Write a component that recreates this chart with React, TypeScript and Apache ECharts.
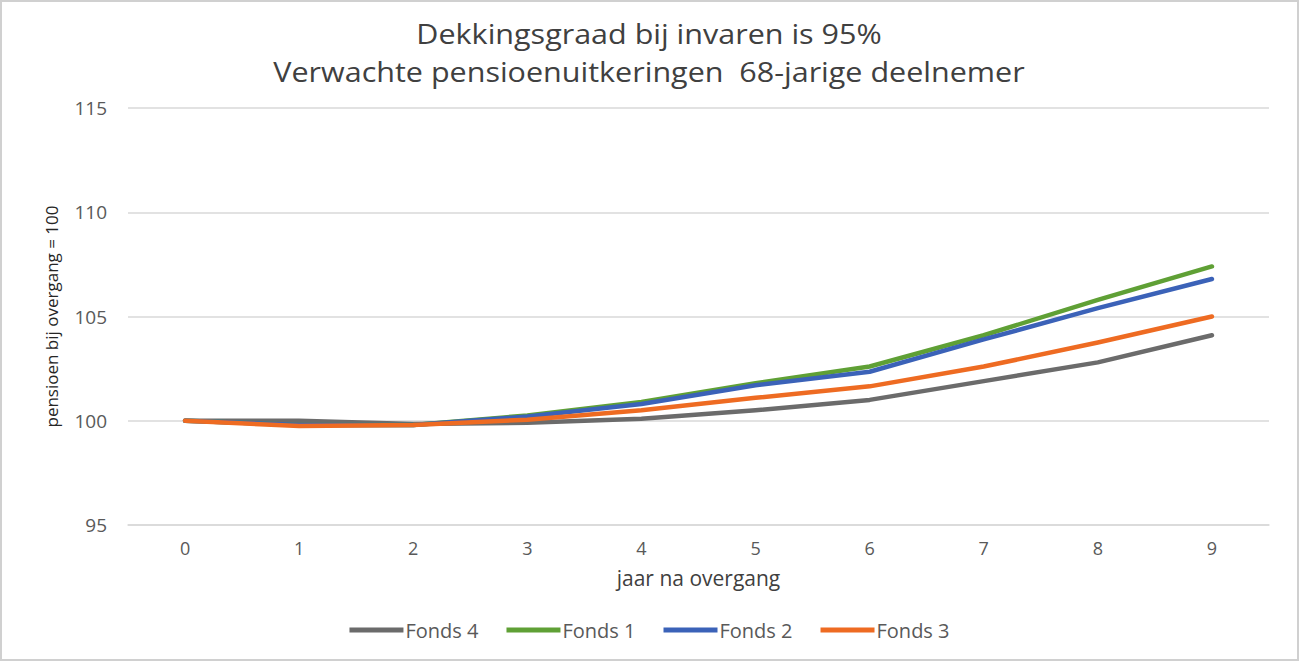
import React, { useEffect, useRef } from "react";
import * as echarts from "echarts";

const categories = ["0", "1", "2", "3", "4", "5", "6", "7", "8", "9"];
const fonds4 = [100, 100, 99.85, 99.9, 100.1, 100.5, 101.0, 101.9, 102.8, 104.1];
const fonds1 = [100, 99.8, 99.8, 100.25, 100.9, 101.8, 102.6, 104.1, 105.8, 107.4];
const fonds2 = [100, 99.8, 99.8, 100.2, 100.8, 101.7, 102.35, 103.9, 105.4, 106.8];
const fonds3 = [100, 99.75, 99.8, 100.05, 100.5, 101.1, 101.65, 102.6, 103.75, 105.0];

const titleLine1 = "Dekkingsgraad bij invaren is 95%";
const titleLine2 = "Verwachte pensioenuitkeringen  68-jarige deelnemer";
const font = "'Open Sans', 'Noto Sans', sans-serif";

export default function App() {
  const ref = useRef<HTMLDivElement>(null);
  useEffect(() => {
    document.body.style.margin = "0";
    const chart = echarts.init(ref.current!, null, { renderer: "svg" });
    const mk = (name: string, data: number[], color: string) => ({
      name,
      type: "line",
      data,
      symbol: "none",
      lineStyle: { width: 4.5, color, cap: "round", join: "round" },
      itemStyle: { color },
    });
    const titleText = (text: string, y: number) => ({
      type: "text",
      x: 649,
      y,
      scaleX: 1.13,
      silent: true,
      style: {
        text,
        fill: "#404040",
        font: "27px 'Open Sans', 'Noto Sans', sans-serif",
        textAlign: "center",
        textVerticalAlign: "middle",
      },
    });
    chart.setOption({
      animation: false,
      backgroundColor: "#ffffff",
      textStyle: { fontFamily: font },
      graphic: [
        {
          type: "rect",
          shape: { x: 1, y: 1, width: 1297, height: 659 },
          style: { fill: "none", stroke: "#d0d0d0", lineWidth: 2 },
          silent: true,
        },
        titleText(titleLine1, 33.5),
        titleText(titleLine2, 71),
      ],
      legend: {
        bottom: 16,
        left: "center",
        icon: "rect",
        itemWidth: 54,
        itemHeight: 5,
        itemGap: 28,
        textStyle: { fontSize: 20, color: "#595959", fontFamily: font, padding: [0, 0, 0, -3] },
        data: ["Fonds 4", "Fonds 1", "Fonds 2", "Fonds 3"],
      },
      grid: { left: 128, right: 30, top: 108, bottom: 136 },
      xAxis: {
        type: "category",
        data: categories,
        boundaryGap: true,
        name: "jaar na overgang",
        nameLocation: "middle",
        nameGap: 42,
        nameTextStyle: { fontSize: 21, color: "#404040" },
        axisLine: { show: true, lineStyle: { color: "#d9d9d9", width: 1.5 } },
        axisTick: { show: false },
        axisLabel: { fontSize: 18, color: "#595959", margin: 14 },
      },
      yAxis: {
        type: "value",
        min: 95,
        max: 115,
        interval: 5,
        name: "pensioen bij overgang = 100",
        nameLocation: "middle",
        nameGap: 68,
        nameRotate: 90,
        nameTextStyle: { fontSize: 17, color: "#262626" },
        axisLine: { show: false },
        axisTick: { show: false },
        axisLabel: { fontSize: 19, color: "#595959", margin: 21 },
        splitLine: { lineStyle: { color: "#d9d9d9", width: 1.5 } },
      },
      series: [
        mk("Fonds 4", fonds4, "#6b6b6b"),
        mk("Fonds 1", fonds1, "#5fa035"),
        mk("Fonds 2", fonds2, "#3b62b8"),
        mk("Fonds 3", fonds3, "#ee6b22"),
      ],
    });
    return () => chart.dispose();
  }, []);
  return <div ref={ref} style={{ width: 1299, height: 661, position: "absolute", left: 0, top: 0 }} />;
}
